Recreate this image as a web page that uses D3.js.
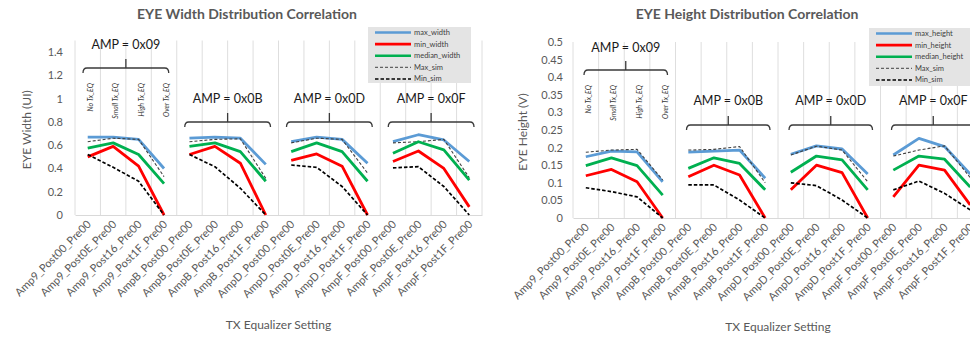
<!DOCTYPE html>
<html>
<head>
<meta charset="utf-8">
<script src="https://cdn.jsdelivr.net/npm/d3@7/dist/d3.min.js"></script>
<style>
  html, body { margin: 0; padding: 0; background: #fff; }
  svg { display: block; font-family: Lato, "Liberation Sans", sans-serif; }
</style>
</head>
<body>
<svg id="chart" width="970" height="339"></svg>
<script>
// TX equalizer settings (4 AMP groups x 4 post-cursor settings)
const categories = [
  "Amp9_Post00_Pre00", "Amp9_Post0E_Pre00", "Amp9_Post16_Pre00", "Amp9_Post1F_Pre00",
  "AmpB_Post00_Pre00", "AmpB_Post0E_Pre00", "AmpB_Post16_Pre00", "AmpB_Post1F_Pre00",
  "AmpD_Post00_Pre00", "AmpD_Post0E_Pre00", "AmpD_Post16_Pre00", "AmpD_Post1F_Pre00",
  "AmpF_Post00_Pre00", "AmpF_Post0E_Pre00", "AmpF_Post16_Pre00", "AmpF_Post1F_Pre00"
];
const ampGroups = ["AMP = 0x09", "AMP = 0x0B", "AMP = 0x0D", "AMP = 0x0F"];
const eqLabels = ["No Tx_EQ", "Small Tx_EQ", "High Tx_EQ", "Over Tx_EQ"];

// Eye width (UI)
const maxWidth    = [0.67, 0.67, 0.65, 0.40,  0.66, 0.67, 0.66, 0.435, 0.63, 0.67, 0.65, 0.445, 0.63, 0.69, 0.645, 0.46];
const minWidth    = [0.50, 0.59, 0.42, 0.00,  0.52, 0.59, 0.445, 0.00, 0.47, 0.525, 0.42, 0.00, 0.46, 0.55, 0.40, 0.07];
const medianWidth = [0.575, 0.62, 0.52, 0.27, 0.59, 0.62, 0.545, 0.29, 0.545, 0.62, 0.545, 0.29, 0.53, 0.63, 0.56, 0.30];
const maxSimWidth = [0.63, 0.66, 0.65, 0.33,  0.63, 0.65, 0.655, 0.315, 0.62, 0.66, 0.65, 0.36, 0.62, 0.63, 0.65, 0.32];
const minSimWidth = [0.52, 0.41, 0.29, 0.00,  0.52, 0.415, 0.23, 0.00, 0.43, 0.41, 0.245, 0.00, 0.405, 0.415, 0.245, 0.00];

// Eye height (V)
const maxHeight    = [0.174, 0.19, 0.188, 0.103, 0.187, 0.19, 0.193, 0.113, 0.181, 0.205, 0.196, 0.125, 0.179, 0.226, 0.203, 0.125];
const minHeight    = [0.12, 0.138, 0.103, 0.00,  0.117, 0.15, 0.122, 0.00,  0.08, 0.15, 0.129, 0.00,  0.06, 0.15, 0.136, 0.037];
const medianHeight = [0.149, 0.171, 0.149, 0.065, 0.141, 0.171, 0.155, 0.08, 0.13, 0.176, 0.165, 0.08, 0.136, 0.176, 0.167, 0.088];
const maxSimHeight = [0.187, 0.193, 0.195, 0.108, 0.193, 0.195, 0.203, 0.10, 0.179, 0.204, 0.193, 0.103, 0.176, 0.193, 0.205, 0.115];
const minSimHeight = [0.086, 0.075, 0.06, 0.00,  0.094, 0.094, 0.051, 0.00, 0.10, 0.092, 0.051, 0.00, 0.08, 0.105, 0.07, 0.023];

// Axis ticks
const widthTicks  = [0, 0.2, 0.4, 0.6, 0.8, 1.0, 1.2, 1.4];
const heightTicks = [0, 0.05, 0.1, 0.15, 0.2, 0.25, 0.3, 0.35, 0.4, 0.45, 0.5];

const svg = d3.select("#chart");
const TEXT = "#595959";

function seriesStyles(suffix) {
  return [
    { name: "max_" + suffix,    color: "#5b9bd5", width: 2.8, dash: null },
    { name: "min_" + suffix,    color: "#ff0000", width: 2.8, dash: null },
    { name: "median_" + suffix, color: "#00b050", width: 2.8, dash: null },
    { name: "Max_sim",          color: "#404040", width: 1.1, dash: "3,2" },
    { name: "Min_sim",          color: "#000000", width: 1.7, dash: "3.5,2" }
  ];
}

function drawPanel(cfg) {
  const g = svg.append("g");
  const x = d3.scaleBand().domain(categories).range([cfg.x0, cfg.x1]).padding(0);
  const y = d3.scaleLinear().domain([0, cfg.yMax]).range([cfg.yBottom, cfg.yTop]);
  const bw = x.bandwidth();
  const cx = c => x(c) + bw / 2;

  // chart title
  g.append("text")
    .attr("x", cfg.titleX).attr("y", 19)
    .attr("text-anchor", "middle")
    .attr("font-size", 14).attr("font-weight", "bold")
    .attr("fill", TEXT)
    .text(cfg.title);

  // vertical gridlines at category boundaries
  const bounds = categories.map(c => x(c)).concat([cfg.x1]);
  g.append("g").selectAll("line").data(bounds).join("line")
    .attr("x1", d => d).attr("x2", d => d)
    .attr("y1", cfg.yTop).attr("y2", cfg.yBottom)
    .attr("stroke", "#dedede").attr("stroke-width", 1);

  // category axis
  const xAxis = g.append("g").attr("transform", `translate(0,${cfg.yBottom})`)
    .call(d3.axisBottom(x).tickSize(0).tickFormat(""));
  xAxis.select(".domain").attr("stroke", "#d9d9d9");
  g.append("g").selectAll("text").data(categories).join("text")
    .attr("transform", c => `translate(${cx(c) + 4},${cfg.yBottom + 10}) rotate(-45)`)
    .attr("text-anchor", "end")
    .attr("font-size", 11).attr("fill", TEXT)
    .text(c => c);

  // value axis
  const yAxis = g.append("g").attr("transform", `translate(${cfg.x0},0)`)
    .call(d3.axisLeft(y).tickValues(cfg.ticks).tickSize(0).tickPadding(cfg.tickPad)
      .tickFormat(d => String(+d.toFixed(2))));
  yAxis.select(".domain").remove();
  yAxis.selectAll("text").attr("font-size", 11).attr("fill", TEXT)
    .attr("font-family", "Lato, 'Liberation Sans', sans-serif");

  // axis titles
  g.append("text")
    .attr("transform", `translate(${cfg.yTitleX},${(cfg.yTop + cfg.yBottom) / 2 + 2}) rotate(-90)`)
    .attr("text-anchor", "middle").attr("font-size", 12).attr("fill", TEXT)
    .text(cfg.yTitle);
  g.append("text")
    .attr("x", (cfg.x0 + cfg.x1) / 2).attr("y", cfg.xTitleY)
    .attr("text-anchor", "middle").attr("font-size", 12).attr("fill", TEXT)
    .text("TX Equalizer Setting");

  // series lines, one segment per AMP group
  const line = d3.line().x(d => cx(d.c)).y(d => y(d.v));
  const styles = seriesStyles(cfg.suffix);
  const order = [0, 3, 2, 1, 4];
  order.forEach(si => {
    const s = styles[si];
    const vals = cfg.series[si];
    for (let gi = 0; gi < 4; gi++) {
      const pts = d3.range(gi * 4, gi * 4 + 4).map(i => ({ c: categories[i], v: vals[i] }));
      g.append("path").datum(pts)
        .attr("d", line)
        .attr("fill", "none")
        .attr("stroke", s.color)
        .attr("stroke-width", s.width)
        .attr("stroke-dasharray", s.dash)
        .attr("stroke-linejoin", "round");
    }
  });

  // AMP group annotations with brackets
  ampGroups.forEach((label, gi) => {
    const first = categories[gi * 4], last = categories[gi * 4 + 3];
    const bx1 = x(first) + cfg.brPadL, bx2 = x(last) + bw - cfg.brPadR;
    const bxc = (bx1 + bx2) / 2;
    const by = gi === 0 ? cfg.br0Y : cfg.brY;
    const ty = gi === 0 ? cfg.txt0Y : cfg.txtY;
    g.append("text")
      .attr("x", bxc).attr("y", ty)
      .attr("text-anchor", "middle").attr("font-size", 12.5).attr("fill", "#1a1a1a")
      .text(label);
    const p = d3.path();
    p.moveTo(bx1, by + 5);
    p.quadraticCurveTo(bx1, by, bx1 + 4, by);
    p.lineTo(bx2 - 4, by);
    p.quadraticCurveTo(bx2, by, bx2, by + 5);
    p.moveTo(bxc, by);
    p.lineTo(bxc, by - 9);
    g.append("path").attr("d", p.toString())
      .attr("fill", "none").attr("stroke", "#3a3a3a").attr("stroke-width", 1.3);
  });

  // equalizer strength labels over the first group
  eqLabels.forEach((lab, i) => {
    g.append("text")
      .attr("transform", `translate(${cx(categories[i]) + 5},${cfg.eqTop}) rotate(-90)`)
      .attr("text-anchor", "end")
      .attr("font-size", 7).attr("font-style", "italic").attr("fill", "#333")
      .text(lab);
  });

  // legend
  const lg = g.append("g").attr("transform", `translate(${cfg.legX},${cfg.legY})`);
  lg.append("rect").attr("width", cfg.legW).attr("height", cfg.legH).attr("fill", "#e4e4e4");
  styles.forEach((s, i) => {
    const ry = 5.5 + i * 11.6;
    lg.append("line")
      .attr("x1", 7).attr("x2", 43).attr("y1", ry).attr("y2", ry)
      .attr("stroke", s.color)
      .attr("stroke-width", s.dash ? s.width * 0.9 : 2.6)
      .attr("stroke-dasharray", s.dash);
    lg.append("text")
      .attr("x", 46).attr("y", ry + 2.5)
      .attr("font-size", 7.5).attr("fill", "#404040")
      .text(s.name);
  });
}

drawPanel({
  title: "EYE Width Distribution Correlation", titleX: 247,
  x0: 75, x1: 482, yTop: 40.5, yBottom: 215, yMax: 1.5,
  ticks: widthTicks, tickPad: 12,
  yTitle: "EYE Width (UI)", yTitleX: 31, xTitleY: 329,
  suffix: "width",
  series: [maxWidth, minWidth, medianWidth, maxSimWidth, minSimWidth],
  brPadL: 8, brPadR: 8, br0Y: 68, brY: 122, txt0Y: 49, txtY: 103,
  eqTop: 83,
  legX: 368, legY: 27, legW: 103, legH: 56
});

drawPanel({
  title: "EYE Height Distribution Correlation", titleX: 747,
  x0: 573, x1: 983, yTop: 42, yBottom: 218, yMax: 0.5,
  ticks: heightTicks, tickPad: 10,
  yTitle: "EYE Height (V)", yTitleX: 527, xTitleY: 331,
  suffix: "height",
  series: [maxHeight, minHeight, medianHeight, maxSimHeight, minSimHeight],
  brPadL: 11, brPadR: 8, br0Y: 70, brY: 125, txt0Y: 52, txtY: 105,
  eqTop: 85,
  legX: 869, legY: 28, legW: 110, legH: 58
});
</script>
</body>
</html>
